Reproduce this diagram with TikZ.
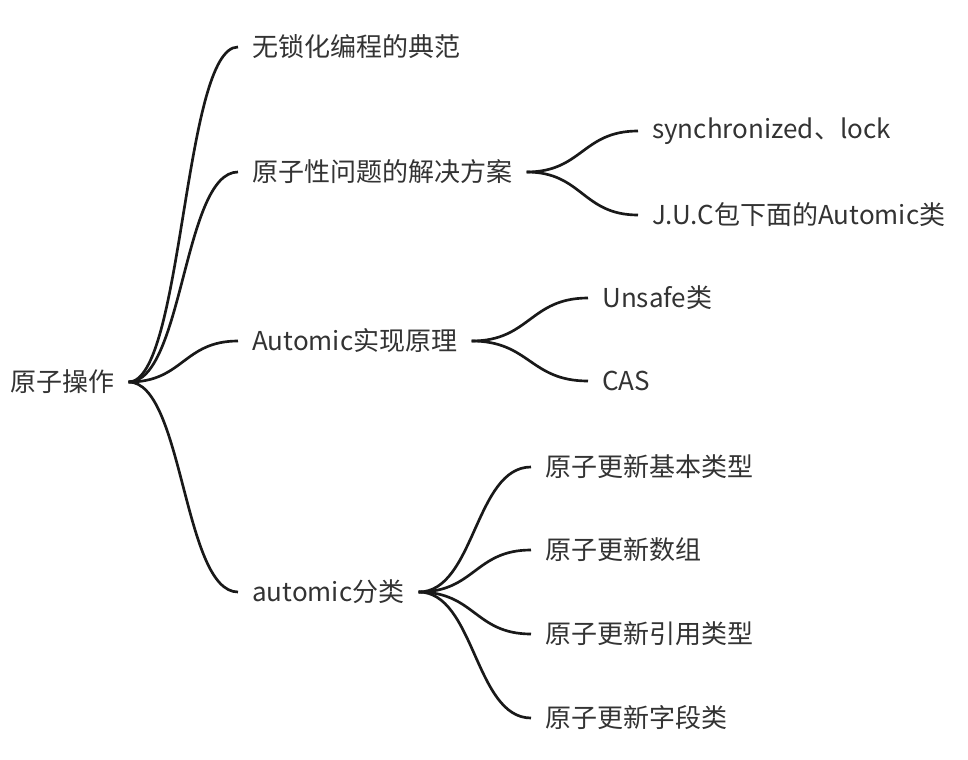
\documentclass[tikz,border=0pt]{standalone}
\usepackage{fontspec}
\setmainfont{Noto Sans CJK SC}
\usetikzlibrary{calc}

\begin{document}
\begin{tikzpicture}[x=0.75pt,y=-0.75pt,
  topic/.style={anchor=west, inner xsep=10.5pt, inner ysep=2pt, text=black!80,
    font=\fontsize{19.5pt}{23pt}\selectfont},
  branch/.style={line width=2pt, draw=black!90,
    to path={.. controls ($(\tikztostart)!0.5!(\tikztostart -| \tikztotarget)$)
      and ($(\tikztotarget)!0.5!(\tikztotarget -| \tikztostart)$) .. (\tikztotarget)}}]
\fill[white] (0,0) rectangle (968,760);
\useasboundingbox (0,0) rectangle (968,760);
% root and first level
\node[topic] (root) at (-4,382) {原子操作};
\node[topic] (b1) at (238,47) {无锁化编程的典范};
\node[topic] (b2) at (238,172) {原子性问题的解决方案};
\node[topic] (b3) at (238,341) {Automic实现原理};
\node[topic] (b4) at (238,592) {automic分类};
% second level
\node[topic] (s1) at (638,131) {synchronized、lock};
\node[topic] (s2) at (638,215) {J.U.C包下面的Automic类};
\node[topic] (u1) at (588,298) {Unsafe类};
\node[topic] (u2) at (588,381) {CAS};
\node[topic] (c1) at (531,467) {原子更新基本类型};
\node[topic] (c2) at (531,550) {原子更新数组};
\node[topic] (c3) at (531,634) {原子更新引用类型};
\node[topic] (c4) at (531,718) {原子更新字段类};
% connectors
\draw[branch] (root.east) to (b1.west);
\draw[branch] (root.east) to (b2.west);
\draw[branch] (root.east) to (b3.west);
\draw[branch] (root.east) to (b4.west);
\draw[branch] (b2.east) to (s1.west);
\draw[branch] (b2.east) to (s2.west);
\draw[branch] (b3.east) to (u1.west);
\draw[branch] (b3.east) to (u2.west);
\draw[branch] (b4.east) to (c1.west);
\draw[branch] (b4.east) to (c2.west);
\draw[branch] (b4.east) to (c3.west);
\draw[branch] (b4.east) to (c4.west);
\end{tikzpicture}
\end{document}
